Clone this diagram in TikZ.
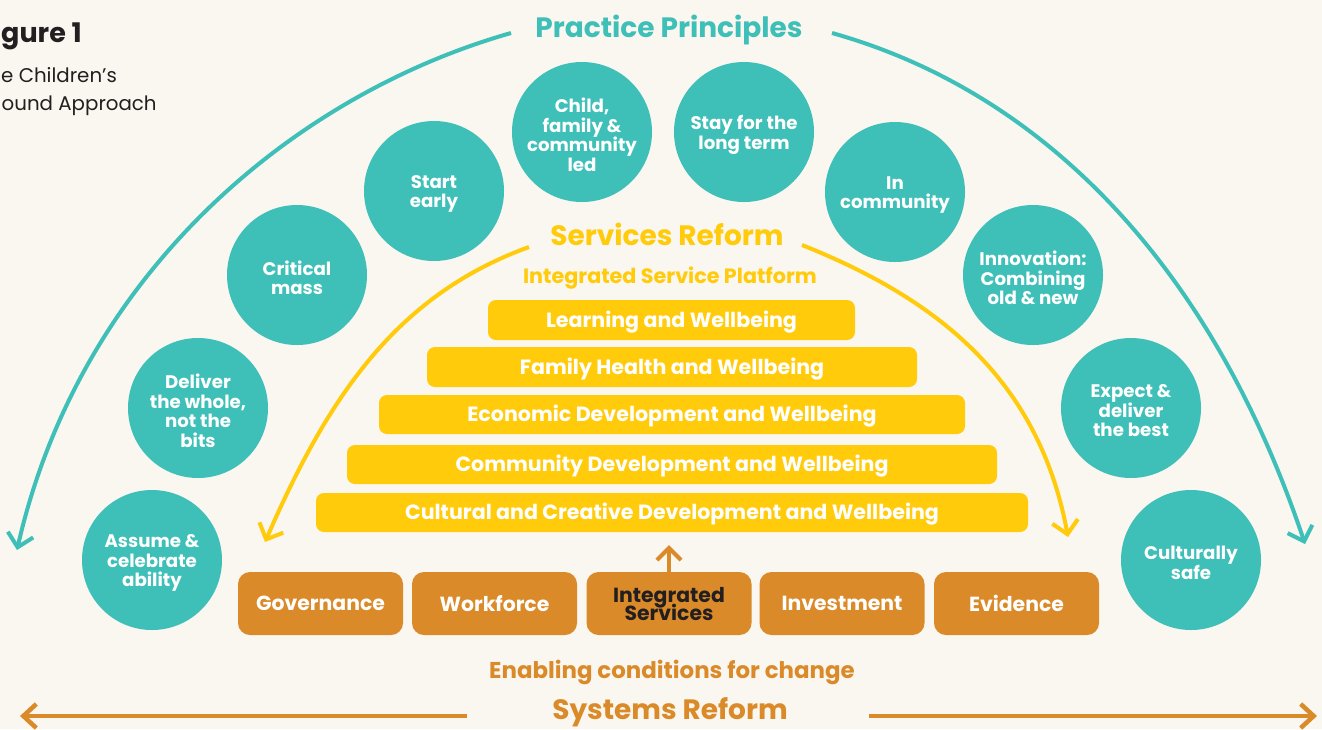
\documentclass[tikz,border=0pt]{standalone}
\usepackage{fontspec}
\setmainfont{Poppins}
\usetikzlibrary{arrows.meta}

\definecolor{paper}{HTML}{FAF6F0}
\definecolor{ppteal}{HTML}{3EBFB8}
\definecolor{ppyellow}{HTML}{FFCB0B}
\definecolor{pporange}{HTML}{DA8A28}
\definecolor{ppdark}{HTML}{231F20}

\begin{document}
% keep the baselines of stacked lines at the exact \baselineskip
\lineskiplimit=-50pt\relax
\begin{tikzpicture}[x=1pt,y=-1pt,
  principle/.style={circle, fill=ppteal, minimum size=140pt, inner sep=0pt},
  principletext/.style={inner sep=0pt, text=white, align=center, yshift=-3pt,
    font=\fontsize{18.2}{19.5}\selectfont\bfseries},
  servicebar/.style={rectangle, rounded corners=8pt, fill=ppyellow, text=white,
    inner sep=0pt, font=\fontsize{20.6}{22}\selectfont\bfseries,
    text height=14.5pt, text depth=0pt},
  enabler/.style={rectangle, rounded corners=12pt, fill=pporange, text=white,
    minimum width=165pt, minimum height=63pt, inner sep=0pt, align=center,
    font=\fontsize{20.4}{18}\selectfont\bfseries},
  heading/.style={inner sep=0pt, anchor=base, font=\fontsize{28}{30}\selectfont\bfseries},
  subheading/.style={inner sep=0pt, anchor=base, font=\fontsize{20.7}{24}\selectfont\bfseries},
  flow/.style={line width=4pt, line join=miter,
    -{Straight Barb[length=13pt,width=26pt,line join=miter]}},
  caption/.style={inner sep=0pt, anchor=base west, text=ppdark},
]
\fill[paper] (0,0) rectangle (1322,729);
\useasboundingbox (0,0) rectangle (1322,729);

% caption in the top left corner
\node[caption, anchor=base east, font=\fontsize{27}{30}\selectfont\bfseries] (figtitle) at (82,42) {gure 1};
\node[caption, font=\fontsize{19.8}{24}\selectfont] (figsub1) at (1,82) {e Children’s};
\node[caption, font=\fontsize{19.8}{24}\selectfont] (figsub2) at (1.5,110) {ound Approach};

% outer ring: practice principles
\node[heading, text=ppteal] (pp) at (669,37) {Practice Principles};
\coordinate (ppL) at (511,33);
\coordinate (ppR) at (832,33);
\coordinate (ppLend) at (17,550);
\coordinate (ppRend) at (1305,544);
\draw[flow, ppteal] (ppL) .. controls (290,96) and (79,277) .. (ppLend);
\draw[flow, ppteal] (ppR) .. controls (1053,95) and (1216,278) .. (ppRend);

\node[principle] (p1) at (152,560) {};
\node[principle] (p2) at (198,408) {};
\node[principle] (p3) at (297,275) {};
\node[principle] (p4) at (434,191) {};
\node[principle] (p5) at (582,132) {};
\node[principle] (p6) at (744,132) {};
\node[principle] (p7) at (895,192) {};
\node[principle] (p8) at (1033,275) {};
\node[principle] (p9) at (1131,408) {};
\node[principle] (p10) at (1191,560) {};

\node[principletext] (t1) at (p1) {Assume \&\\celebrate\\ability};
\node[principletext] (t2) at (p2) {Deliver\\the whole,\\not the\\bits};
\node[principletext] (t3) at (p3) {Critical\\mass};
\node[principletext] (t4) at (p4) {Start\\early};
\node[principletext] (t5) at (p5) {Child,\\family \&\\community\\led};
\node[principletext] (t6) at (p6) {Stay for the\\long term};
\node[principletext] (t7) at (p7) {In\\community};
\node[principletext] (t8) at (p8) {Innovation:\\Combining\\old \& new};
\node[principletext] (t9) at (p9) {Expect \&\\deliver\\the best};
\node[principletext] (t10) at (p10) {Culturally\\safe};

% inner ring: services reform
\node[heading, text=ppyellow] (sr) at (667,245) {Services Reform};
\node[subheading, text=ppyellow] (isp) at (670,283) {Integrated Service Platform};
\coordinate (srL) at (529,247);
\coordinate (srR) at (802,245);
\coordinate (srLend) at (265,542);
\coordinate (srRend) at (1068,537);
\draw[flow, ppyellow] (srL) .. controls (397,295) and (329,395) .. (srLend);
\draw[flow, ppyellow] (srR) .. controls (932,297) and (1038,375) .. (srRend);

\node[servicebar, minimum width=367pt, minimum height=40pt] (b1) at (671.5,320) {Learning and Wellbeing};
\node[servicebar, minimum width=490pt, minimum height=40pt] (b2) at (672,367) {Family Health and Wellbeing};
\node[servicebar, minimum width=586pt, minimum height=39pt] (b3) at (672,414.5) {Economic Development and Wellbeing};
\node[servicebar, minimum width=650pt, minimum height=39pt] (b4) at (672,464.5) {Community Development and Wellbeing};
\node[servicebar, minimum width=712pt, minimum height=39pt] (b5) at (672,512.5) {Cultural and Creative Development and Wellbeing};

% enabling conditions
\node[enabler] (e1) at (320.5,603.5) {Governance};
\node[enabler] (e2) at (494.5,603.5) {Workforce};
\node[enabler, text=ppdark] (e3) at (669,603.5) {\rule{0pt}{17pt}Integrated\\Services};
\node[enabler] (e4) at (842,603.5) {Investment};
\node[enabler] (e5) at (1016.5,603.5) {Evidence};

\draw[pporange, line width=4pt, shorten >=13pt,
  -{Straight Barb[length=12pt,width=24pt,line join=miter]}] (e3.north) -- (e3.north |- b5.south);

\node[subheading, text=pporange, font=\fontsize{22.9}{26}\selectfont\bfseries] (ecc) at (672,678) {Enabling conditions for change};

% systems reform
\node[heading, text=pporange] (sys) at (670,719.5) {Systems Reform};
\coordinate (sysL) at (467,716);
\coordinate (sysR) at (869,716);
\coordinate (sysLend) at (20,716);
\coordinate (sysRend) at (1317,716);
\draw[pporange, line width=4.5pt, -{Straight Barb[length=13pt,width=24pt,line join=miter]}] (sysL) -- (sysLend);
\draw[pporange, line width=4.5pt, -{Straight Barb[length=13pt,width=24pt,line join=miter]}] (sysR) -- (sysRend);
\end{tikzpicture}
\end{document}
